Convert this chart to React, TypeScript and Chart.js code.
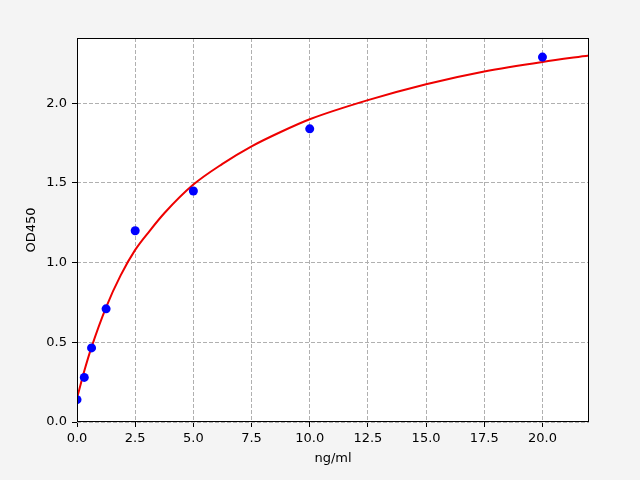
import { useEffect, useRef } from "react"
import { Chart, registerables } from "chart.js"

Chart.register(...registerables)

// standards (concentration in ng/ml, OD450)
const standardConc = [0, 0.3125, 0.625, 1.25, 2.5, 5, 10, 20]
const standardOD = [0.14, 0.28, 0.465, 0.71, 1.2, 1.45, 1.84, 2.29]

// fitted curve
const fitConc = [0, 0.3125, 0.625, 1.25, 1.875, 2.5, 3.125, 3.75, 5, 6.25, 7.5, 8.75, 10, 12.5, 15, 17.5, 20, 22]
const fitOD = [0.15, 0.32, 0.47, 0.72, 0.92, 1.08, 1.2, 1.31, 1.49, 1.62, 1.73, 1.82, 1.9, 2.02, 2.12, 2.2, 2.26, 2.3]

const xTicks = [0, 2.5, 5, 7.5, 10, 12.5, 15, 17.5, 20]
const yTicks = [0, 0.5, 1, 1.5, 2]

const FONT = "'DejaVu Sans', sans-serif"

const framePlugin = {
  id: "frame",
  beforeDraw(chart: Chart) {
    const { ctx, chartArea } = chart
    ctx.save()
    ctx.fillStyle = "#f4f4f4"
    ctx.fillRect(0, 0, chart.width, chart.height)
    ctx.fillStyle = "#ffffff"
    ctx.fillRect(chartArea.left, chartArea.top, chartArea.right - chartArea.left, chartArea.bottom - chartArea.top)
    ctx.restore()
  },
  afterDraw(chart: Chart) {
    const { ctx, chartArea } = chart
    ctx.save()
    ctx.strokeStyle = "#000000"
    ctx.lineWidth = 1
    ctx.strokeRect(chartArea.left + 0.5, chartArea.top + 0.5, chartArea.right - chartArea.left - 1, chartArea.bottom - chartArea.top - 1)
    ctx.restore()
  },
}

function StandardCurve() {
  const chartRef = useRef<HTMLCanvasElement>(null)
  const chartInstance = useRef<Chart | null>(null)

  useEffect(() => {
    if (!chartRef.current) return
    if (chartInstance.current) chartInstance.current.destroy()

    chartInstance.current = new Chart(chartRef.current, {
      type: "scatter",
      data: {
        datasets: [
          {
            label: "standards",
            data: standardConc.map((x, i) => ({ x, y: standardOD[i] })),
            backgroundColor: "#0000ff",
            borderColor: "#0000ff",
            pointRadius: 4.5,
            pointBorderWidth: 0,
            order: 0,
          },
          {
            label: "fit",
            data: fitConc.map((x, i) => ({ x, y: fitOD[i] })),
            showLine: true,
            borderColor: "#ee0000",
            borderWidth: 2,
            pointRadius: 0,
            cubicInterpolationMode: "monotone",
            order: 1,
          },
        ],
      },
      options: {
        responsive: false,
        animation: false,
        devicePixelRatio: 1,
        layout: { padding: { left: 0, top: 38, right: 51, bottom: 0 } },
        plugins: {
          legend: { display: false },
          tooltip: { enabled: false },
        },
        scales: {
          x: {
            type: "linear",
            min: 0,
            max: 22,
            afterBuildTicks: (scale) => {
              scale.ticks = xTicks.map((value) => ({ value }))
            },
            afterFit: (scale) => {
              scale.height = 58
            },
            grid: {
              color: "#b0b0b0",
              tickColor: "#000000",
              tickLength: 5,
              tickBorderDash: [],
            },
            border: { display: false, dash: [4, 2] },
            ticks: {
              color: "#000000",
              padding: 4,
              maxRotation: 0,
              font: { family: FONT, size: 13 },
              callback: (v) => Number(v).toFixed(1),
            },
            title: {
              display: true,
              text: "ng/ml",
              color: "#000000",
              font: { family: FONT, size: 13 },
              padding: { top: 0, bottom: 14 },
            },
          },
          y: {
            type: "linear",
            min: 0,
            max: 2.41,
            afterBuildTicks: (scale) => {
              scale.ticks = yTicks.map((value) => ({ value }))
            },
            afterFit: (scale) => {
              scale.width = 77
            },
            grid: {
              color: "#b0b0b0",
              tickColor: "#000000",
              tickLength: 5,
              tickBorderDash: [],
            },
            border: { display: false, dash: [4, 2] },
            ticks: {
              color: "#000000",
              padding: 5,
              font: { family: FONT, size: 13 },
              callback: (v) => Number(v).toFixed(1),
            },
            title: {
              display: true,
              text: "OD450",
              color: "#000000",
              font: { family: FONT, size: 13 },
              padding: { top: 24, bottom: 0 },
            },
          },
        },
      },
      plugins: [framePlugin],
    })

    return () => {
      if (chartInstance.current) {
        chartInstance.current.destroy()
        chartInstance.current = null
      }
    }
  }, [])

  return <canvas ref={chartRef} width={640} height={480} style={{ display: "block" }} />
}

export default function App() {
  useEffect(() => {
    document.body.style.margin = "0"
  }, [])
  return (
    <div style={{ width: 640, height: 480 }}>
      <StandardCurve />
    </div>
  )
}
